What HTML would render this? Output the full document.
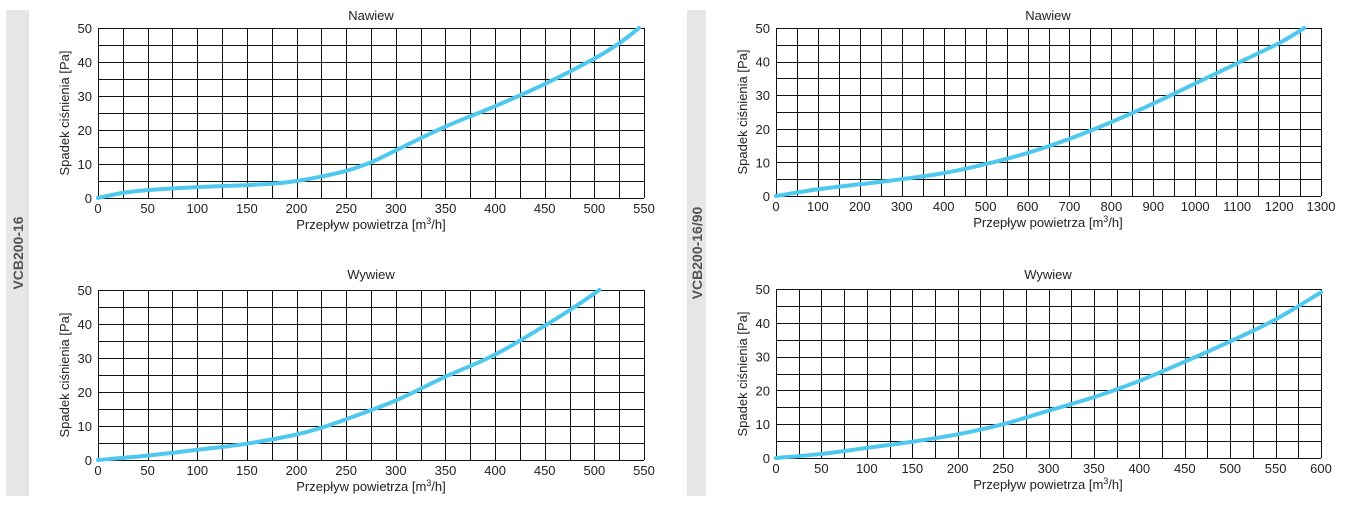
<!DOCTYPE html>
<html><head><meta charset="utf-8"><style>
html,body{margin:0;padding:0;background:#fff;}
svg{display:block;font-family:"Liberation Sans",Arial,sans-serif;}
text{fill:#222;font-size:13px;}
.xt{text-anchor:middle}.yt{text-anchor:end}
</style></head><body>
<svg id="s" width="1367" height="509" viewBox="0 0 1367 509">
<rect x="6" y="10" width="23" height="486" fill="#e6e6e6"/>
<rect x="687" y="10" width="19" height="486" fill="#e6e6e6"/>
<text transform="translate(23,253) rotate(-90)" text-anchor="middle" style="font-size:14px;font-weight:bold;fill:#555">VCB200-16</text>
<text transform="translate(702,253) rotate(-90)" text-anchor="middle" style="font-size:14px;font-weight:bold;fill:#555">VCB200-16/90</text>

<g id="c1" transform="translate(98,28)">
<text x="273" y="-8" class="xt">Nawiew</text>
<g class="xl" transform="translate(0,185)"><text x="0" class="xt">0</text><text x="49.6" class="xt">50</text><text x="99.3" class="xt">100</text><text x="148.9" class="xt">150</text><text x="198.5" class="xt">200</text><text x="248.2" class="xt">250</text><text x="297.8" class="xt">300</text><text x="347.5" class="xt">350</text><text x="397.1" class="xt">400</text><text x="446.7" class="xt">450</text><text x="496.4" class="xt">500</text><text x="546" class="xt">550</text></g>
<g transform="translate(-6,5)"><text y="170" class="yt">0</text><text y="136" class="yt">10</text><text y="102" class="yt">20</text><text y="68" class="yt">30</text><text y="34" class="yt">40</text><text y="0" class="yt">50</text></g>
<text x="273" y="201" class="xt">Przepływ powietrza [m<tspan dy="-5" style="font-size:9px">3</tspan><tspan dy="5">/h]</tspan></text>
<text transform="translate(-29,85) rotate(-90)" class="xt">Spadek ciśnienia [Pa]</text>
</g>
<g id="c2" transform="translate(98,290)">
<text x="273" y="-11" class="xt">Wywiew</text>
<g transform="translate(0,185)"><text x="0" class="xt">0</text><text x="49.6" class="xt">50</text><text x="99.3" class="xt">100</text><text x="148.9" class="xt">150</text><text x="198.5" class="xt">200</text><text x="248.2" class="xt">250</text><text x="297.8" class="xt">300</text><text x="347.5" class="xt">350</text><text x="397.1" class="xt">400</text><text x="446.7" class="xt">450</text><text x="496.4" class="xt">500</text><text x="546" class="xt">550</text></g>
<g transform="translate(-6,5)"><text y="170" class="yt">0</text><text y="136" class="yt">10</text><text y="102" class="yt">20</text><text y="68" class="yt">30</text><text y="34" class="yt">40</text><text y="0" class="yt">50</text></g>
<text x="273" y="201" class="xt">Przepływ powietrza [m<tspan dy="-5" style="font-size:9px">3</tspan><tspan dy="5">/h]</tspan></text>
<text transform="translate(-29,85) rotate(-90)" class="xt">Spadek ciśnienia [Pa]</text>
</g>
<g id="c3" transform="translate(776,28)">
<text x="272" y="-8" class="xt">Nawiew</text>
<g transform="translate(0,183)"><text x="0" class="xt">0</text><text x="41.9" class="xt">100</text><text x="83.8" class="xt">200</text><text x="125.8" class="xt">300</text><text x="167.7" class="xt">400</text><text x="209.6" class="xt">500</text><text x="251.5" class="xt">600</text><text x="293.5" class="xt">700</text><text x="335.4" class="xt">800</text><text x="377.3" class="xt">900</text><text x="419.2" class="xt">1000</text><text x="461.2" class="xt">1100</text><text x="503.1" class="xt">1200</text><text x="545" class="xt">1300</text></g>
<g transform="translate(-6,5)"><text y="168" class="yt">0</text><text y="134.4" class="yt">10</text><text y="100.8" class="yt">20</text><text y="67.2" class="yt">30</text><text y="33.6" class="yt">40</text><text y="0" class="yt">50</text></g>
<text x="272" y="199" class="xt">Przepływ powietrza [m<tspan dy="-5" style="font-size:9px">3</tspan><tspan dy="5">/h]</tspan></text>
<text transform="translate(-29,84) rotate(-90)" class="xt">Spadek ciśnienia [Pa]</text>
</g>
<g id="c4" transform="translate(776,289)">
<text x="272" y="-10" class="xt">Wywiew</text>
<g transform="translate(0,184)"><text x="0" class="xt">0</text><text x="45.4" class="xt">50</text><text x="90.8" class="xt">100</text><text x="136.3" class="xt">150</text><text x="181.7" class="xt">200</text><text x="227.1" class="xt">250</text><text x="272.5" class="xt">300</text><text x="317.9" class="xt">350</text><text x="363.3" class="xt">400</text><text x="408.8" class="xt">450</text><text x="454.2" class="xt">500</text><text x="499.6" class="xt">550</text><text x="545" class="xt">600</text></g>
<g transform="translate(-6,5)"><text y="169" class="yt">0</text><text y="135.2" class="yt">10</text><text y="101.4" class="yt">20</text><text y="67.6" class="yt">30</text><text y="33.8" class="yt">40</text><text y="0" class="yt">50</text></g>
<text x="272" y="200" class="xt">Przepływ powietrza [m<tspan dy="-5" style="font-size:9px">3</tspan><tspan dy="5">/h]</tspan></text>
<text transform="translate(-29,85) rotate(-90)" class="xt">Spadek ciśnienia [Pa]</text>
</g>
</svg>
<script>
var NS="http://www.w3.org/2000/svg";
var C=[
{id:"c1",W:546,H:170,xmax:550,nc:22,pts:[[0,0],[25,1.5],[50,2.3],[100,3.2],[150,3.8],[180,4.3],[200,5],[225,6.3],[250,8],[275,10.5],[300,14],[350,21],[400,27],[450,33.5],[500,41],[525,45.5],[545,50]]},
{id:"c2",W:546,H:170,xmax:550,nc:22,pts:[[0,0],[50,1.3],[100,3],[150,4.8],[200,7.5],[225,9.5],[250,12],[300,17.5],[350,24.5],[400,31],[450,39.5],[480,45],[505,50]]},
{id:"c3",W:545,H:168,xmax:1300,nc:26,pts:[[0,0],[100,2],[200,3.5],[300,5],[400,6.8],[500,9.5],[600,12.8],[700,17],[800,22],[900,27.5],[1000,33.5],[1100,39.5],[1200,45.5],[1260,50]]},
{id:"c4",W:545,H:169,xmax:600,nc:24,pts:[[0,0],[50,1.2],[100,3],[150,4.8],[200,7],[250,10],[300,14],[350,18],[400,22.8],[450,28.5],[500,34.5],[550,41],[600,49]]}];
C.forEach(function(c){
 var g=document.getElementById(c.id),d="";
 for(var i=0;i<=c.nc;i++){var x=Math.round(i*c.W/c.nc)+0.5;d+="M"+x+" 0V"+c.H;}
 for(var j=0;j<=10;j++){var y=Math.round(j*c.H/10)+0.5;d+="M0 "+y+"H"+c.W;}
 var p=document.createElementNS(NS,"path");p.setAttribute("d",d);p.setAttribute("stroke","#111");p.setAttribute("stroke-width","1");p.setAttribute("fill","none");g.insertBefore(p,g.firstChild);
 var P=c.pts.map(function(q){return [q[0]/c.xmax*c.W,c.H-q[1]/50*c.H];});
 var s="M"+P[0][0]+" "+P[0][1];
 for(var k=0;k<P.length-1;k++){var p0=P[k-1]||P[k],p1=P[k],p2=P[k+1],p3=P[k+2]||P[k+1];
  s+="C"+(p1[0]+(p2[0]-p0[0])/6)+" "+(p1[1]+(p2[1]-p0[1])/6)+" "+(p2[0]-(p3[0]-p1[0])/6)+" "+(p2[1]-(p3[1]-p1[1])/6)+" "+p2[0]+" "+p2[1];}
 var l=document.createElementNS(NS,"path");l.setAttribute("d",s);l.setAttribute("stroke","#4ec8ee");l.setAttribute("stroke-width","4");l.setAttribute("fill","none");l.setAttribute("stroke-linecap","round");g.insertBefore(l,p.nextSibling);
});
</script>
</body></html>
